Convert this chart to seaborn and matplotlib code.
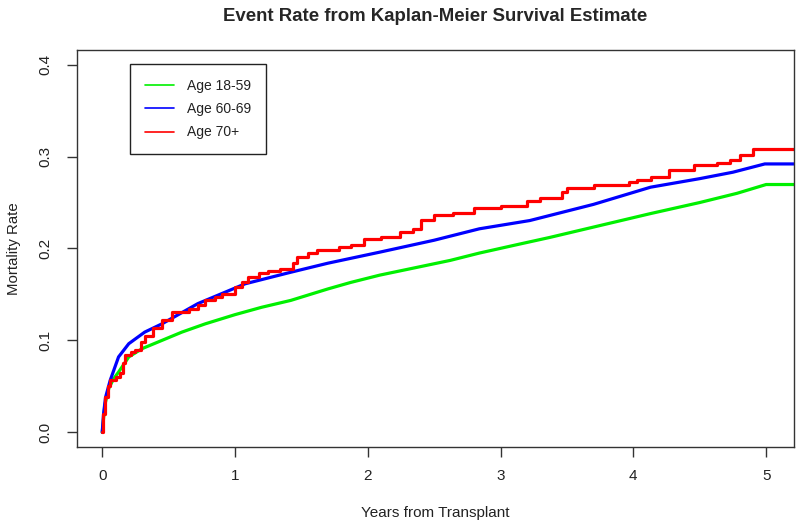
import matplotlib
matplotlib.use("Agg")
import matplotlib.pyplot as plt
from matplotlib.lines import Line2D
import seaborn as sns

# Kaplan-Meier event rate curves
years_1859 = [0, 0.01, 0.02, 0.05, 0.085, 0.123, 0.2, 0.3, 0.45, 0.6, 0.776, 1.0, 1.2, 1.42,
              1.7, 1.87, 2.09, 2.62, 2.84, 3.15, 3.37, 3.75, 4.13, 4.5, 4.78, 5.0, 5.25]
rate_1859 = [0, 0.015, 0.03, 0.048, 0.058, 0.0655, 0.082, 0.091, 0.100, 0.109, 0.118, 0.128,
             0.136, 0.1435, 0.156, 0.163, 0.171, 0.187, 0.195, 0.205, 0.212, 0.225, 0.238,
             0.25, 0.26, 0.2696, 0.2696]

years_6069 = [0, 0.01, 0.025, 0.06, 0.123, 0.2, 0.32, 0.45, 0.72, 1.077, 1.416, 1.7, 2.09, 2.5,
              2.84, 3.22, 3.7, 4.13, 4.5, 4.75, 4.99, 5.25]
rate_6069 = [0, 0.02, 0.038, 0.0565, 0.082, 0.0964, 0.109, 0.118, 0.14, 0.1616, 0.174, 0.184,
             0.196, 0.209, 0.2214, 0.2304, 0.248, 0.2667, 0.276, 0.283, 0.292, 0.292]

years_70 = [0, 0.008, 0.023, 0.04, 0.06, 0.1, 0.135, 0.16, 0.17, 0.22, 0.25, 0.29, 0.32, 0.38,
            0.45, 0.525, 0.65, 0.72, 0.775, 0.85, 0.9, 1.0, 1.05, 1.1, 1.18, 1.25, 1.34, 1.44,
            1.47, 1.55, 1.62, 1.78, 1.87, 1.97, 2.1, 2.24, 2.34, 2.4, 2.5, 2.64, 2.8, 3.0, 3.2,
            3.3, 3.46, 3.5, 3.7, 3.97, 4.03, 4.13, 4.27, 4.46, 4.63, 4.73, 4.8, 4.9, 5.25]
rate_70 = [0, 0.02, 0.038, 0.05, 0.0565, 0.06, 0.064, 0.075, 0.0837, 0.087, 0.089, 0.098, 0.105,
           0.113, 0.122, 0.131, 0.134, 0.139, 0.1435, 0.147, 0.151, 0.158, 0.163, 0.169, 0.173,
           0.176, 0.178, 0.184, 0.1906, 0.195, 0.198, 0.2014, 0.204, 0.2105, 0.213, 0.2178,
           0.2214, 0.231, 0.236, 0.2384, 0.2438, 0.246, 0.2514, 0.2547, 0.261, 0.2656, 0.2696,
           0.272, 0.2746, 0.278, 0.2855, 0.291, 0.2935, 0.2964, 0.302, 0.3084, 0.3084]

labels = ["Age 18-59", "Age 60-69", "Age 70+"]
colors = ["#00f000", "#0000ff", "#ff0000"]

sns.set_style("white")
plt.rcParams['font.family'] = ['Liberation Sans', 'DejaVu Sans']

fig = plt.figure(figsize=(8, 5.25), dpi=100)
ax = fig.add_axes([0.09625, 0.1486, 0.89625, 0.7562])

sns.lineplot(x=years_1859, y=rate_1859, ax=ax, color=colors[0], lw=2.3, estimator=None, sort=False)
sns.lineplot(x=years_6069, y=rate_6069, ax=ax, color=colors[1], lw=2.3, estimator=None, sort=False)
sns.lineplot(x=years_70, y=rate_70, ax=ax, color=colors[2], lw=2.3, estimator=None, sort=False,
             drawstyle="steps-post")

ax.set_xlim(-0.19, 5.21)
ax.set_ylim(-0.016, 0.416)
ax.set_xticks([0, 1, 2, 3, 4, 5])
ax.set_yticks([0.0, 0.1, 0.2, 0.3, 0.4])
ax.set_yticklabels(["0.0", "0.1", "0.2", "0.3", "0.4"], rotation=90, va="center")

for s in ax.spines.values():
    s.set_color("#333333")
    s.set_linewidth(1.0)
ax.tick_params(direction="out", length=7.5, width=1.0, color="#333333",
               labelsize=11, labelcolor="#222222", left=True, bottom=True)
ax.tick_params(axis="x", pad=8)
ax.tick_params(axis="y", pad=10)

ax.set_title("Event Rate from Kaplan-Meier Survival Estimate", fontsize=13.4,
             fontweight="bold", pad=21)
ax.set_xlabel("Years from Transplant", fontsize=11, color="#222222", labelpad=17)
ax.set_ylabel("Mortality Rate", fontsize=10.8, color="#222222", labelpad=13)

handles = [Line2D([], [], color=c, lw=1.2) for c in colors]
leg = ax.legend(handles, labels, loc="upper left", bbox_to_anchor=(0.0739, 0.9647),
                borderaxespad=0, fontsize=10, handlelength=2.1, handletextpad=0.95,
                labelspacing=0.68, borderpad=1.05, fancybox=False, framealpha=1)
leg.get_frame().set_edgecolor("#222222")
leg.get_frame().set_linewidth(1.0)
for t in leg.get_texts():
    t.set_color("#222222")

fig.savefig("out.png", dpi=100)
